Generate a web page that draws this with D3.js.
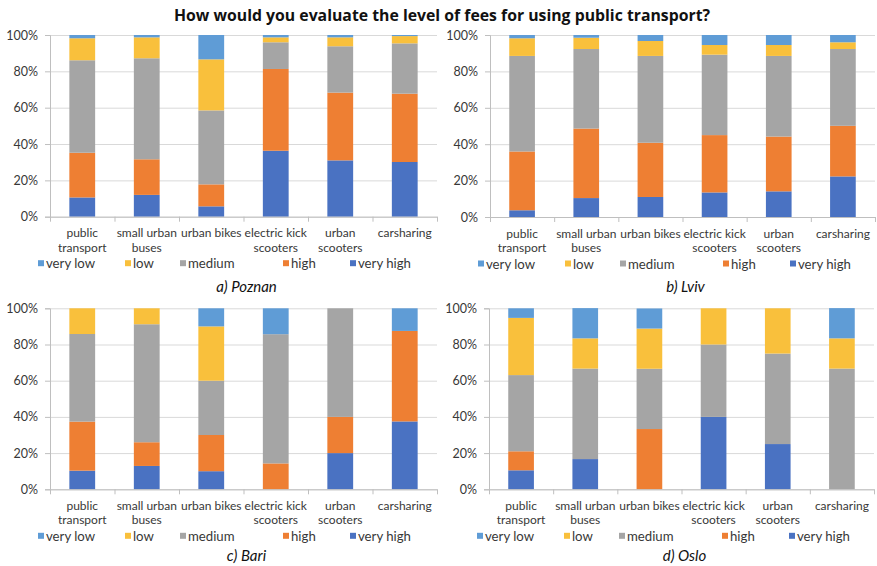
<!DOCTYPE html>
<html>
<head>
<meta charset="utf-8">
<script src="https://cdn.jsdelivr.net/npm/d3@7"></script>
<style>
  html, body { margin: 0; padding: 0; background: #fff; }
  svg { display: block; font-family: Lato, "Open Sans", sans-serif; }
</style>
</head>
<body>
<svg id="chart" width="877" height="566"></svg>
<script>
// Mode categories and the answer levels (bottom of stack first)
const categories = ["public transport", "small urban buses", "urban bikes", "electric kick scooters", "urban scooters", "carsharing"];
const categoryLines = [["public", "transport"], ["small urban", "buses"], ["urban bikes"], ["electric kick", "scooters"], ["urban", "scooters"], ["carsharing"]];
const stackLevels = ["very high", "high", "medium", "low", "very low"];
const legendLevels = ["very low", "low", "medium", "high", "very high"];
const levelColors = ["#4A72C2", "#EE7F33", "#A5A5A5", "#F9C03C", "#5F9CD6"];
const yTickValues = [0, 20, 40, 60, 80, 100];
const yTickLabels = ["0%", "20%", "40%", "60%", "80%", "100%"];

// Share of answers (%) per mode, Poznan
const poznanVeryHigh = [10.6, 12.0, 5.7, 36.3, 31.0, 30.1];
const poznanHigh     = [24.6, 19.6, 12.1, 45.0, 37.3, 37.6];
const poznanMedium   = [50.9, 55.6, 40.7, 14.7, 25.5, 27.7];
const poznanLow      = [12.1, 11.5, 28.1, 2.7, 4.9, 4.0];
const poznanVeryLow  = [1.8, 1.3, 13.4, 1.3, 1.3, 0.6];

// Lviv
const lvivVeryHigh = [3.7, 10.4, 11.0, 13.5, 14.1, 22.3];
const lvivHigh     = [32.3, 38.2, 29.8, 31.5, 30.1, 27.8];
const lvivMedium   = [52.5, 43.7, 47.7, 44.2, 44.3, 42.2];
const lvivLow      = [9.7, 6.2, 8.2, 5.3, 6.0, 3.7];
const lvivVeryLow  = [1.8, 1.5, 3.3, 5.5, 5.5, 4.0];

// Bari
const bariVeryHigh = [10.3, 12.9, 10.0, 0, 20.0, 37.5];
const bariHigh     = [27.1, 13.1, 20.0, 14.3, 20.0, 50.0];
const bariMedium   = [48.4, 65.2, 30.0, 71.4, 60.0, 0];
const bariLow      = [14.2, 8.8, 30.0, 0, 0, 0];
const bariVeryLow  = [0, 0, 10.0, 14.3, 0, 12.5];

// Oslo
const osloVeryHigh = [10.5, 16.7, 0, 40.0, 25.0, 0];
const osloHigh     = [10.5, 0, 33.3, 0, 0, 0];
const osloMedium   = [42.1, 50.0, 33.3, 40.0, 50.0, 66.7];
const osloLow      = [31.6, 16.7, 22.2, 20.0, 25.0, 16.7];
const osloVeryLow  = [5.3, 16.7, 11.1, 0, 0, 16.7];

const panelTitles = ["a) Poznan", "b) Lviv", "c) Bari", "d) Oslo"];
const chartTitle = "How would you evaluate the level of fees for using public transport?";

function rows(vh, h, m, l, vl) {
  return categories.map((c, i) => ({
    category: c,
    "very high": vh[i], "high": h[i], "medium": m[i], "low": l[i], "very low": vl[i]
  }));
}

const panels = [
  { title: panelTitles[0], data: rows(poznanVeryHigh, poznanHigh, poznanMedium, poznanLow, poznanVeryLow),
    x0: 50, x1: 437, y0: 35, y1: 216.7, capY: 287 },
  { title: panelTitles[1], data: rows(lvivVeryHigh, lvivHigh, lvivMedium, lvivLow, lvivVeryLow),
    x0: 490, x1: 875, y0: 35, y1: 217, capY: 287 },
  { title: panelTitles[2], data: rows(bariVeryHigh, bariHigh, bariMedium, bariLow, bariVeryLow),
    x0: 50, x1: 437, y0: 308.3, y1: 489.3, capY: 556 },
  { title: panelTitles[3], data: rows(osloVeryHigh, osloHigh, osloMedium, osloLow, osloVeryLow),
    x0: 489, x1: 874, y0: 308.3, y1: 489.3, capY: 556 }
];

const svg = d3.select("#chart");
const color = d3.scaleOrdinal().domain(stackLevels).range(levelColors);

svg.append("text")
  .attr("x", 442).attr("y", 21)
  .attr("text-anchor", "middle")
  .attr("font-family", "'Open Sans', sans-serif")
  .attr("font-size", 15.8).attr("font-weight", 700)
  .attr("fill", "#111")
  .text(chartTitle);

const legendOffsets = [-12, 75, 130, 233, 300];

panels.forEach(p => {
  const g = svg.append("g");
  const x = d3.scaleBand().domain(categories).range([p.x0, p.x1]).paddingInner(0.6).paddingOuter(0.3);
  const y = d3.scaleLinear().domain([0, 100]).range([p.y1, p.y0]);

  // gridlines
  g.append("g")
    .attr("transform", `translate(${p.x0},0)`)
    .call(d3.axisLeft(y).tickValues(yTickValues).tickSize(-(p.x1 - p.x0)).tickFormat(""))
    .call(s => s.select(".domain").remove())
    .call(s => s.selectAll("line").attr("stroke", "#d9d9d9").attr("stroke-width", 1));

  // y axis with ticks
  g.append("g")
    .attr("transform", `translate(${p.x0},0)`)
    .call(d3.axisLeft(y).tickValues(yTickValues).tickSize(5).tickPadding(7)
      .tickFormat((d, i) => yTickLabels[i]))
    .call(s => s.select(".domain").attr("stroke", "#bfbfbf"))
    .call(s => s.selectAll("line").attr("stroke", "#bfbfbf"))
    .call(s => s.selectAll("text").attr("font-size", 12.5).attr("fill", "#383838")
      .attr("font-family", "Lato, sans-serif"));

  // stacked bars
  const series = d3.stack().keys(stackLevels)(p.data);
  g.selectAll("g.series").data(series).join("g")
    .attr("class", "series")
    .attr("fill", d => color(d.key))
    .selectAll("rect").data(d => d).join("rect")
    .attr("x", d => x(d.data.category))
    .attr("width", x.bandwidth())
    .attr("y", d => y(d[1]))
    .attr("height", d => Math.max(0, y(d[0]) - y(d[1])));

  // x axis line with ticks at category boundaries
  const xb = d3.scaleLinear().domain([0, categories.length]).range([p.x0, p.x1]);
  g.append("g")
    .attr("transform", `translate(0,${p.y1})`)
    .call(d3.axisBottom(xb).tickValues(d3.range(categories.length + 1)).tickSize(5).tickSizeOuter(0).tickFormat(""))
    .call(s => s.select(".domain").attr("stroke", "#bfbfbf"))
    .call(s => s.selectAll("line").attr("stroke", "#bfbfbf"));

  // category labels
  categories.forEach((c, i) => {
    const t = g.append("text")
      .attr("x", x(c) + x.bandwidth() / 2)
      .attr("y", p.y1 + 20.5)
      .attr("text-anchor", "middle")
      .attr("font-size", 12).attr("fill", "#383838");
    categoryLines[i].forEach((ln, j) => {
      t.append("tspan").attr("x", x(c) + x.bandwidth() / 2).attr("dy", j === 0 ? 0 : 14.5).text(ln);
    });
  });

  // legend
  const ly = p.y1 + 47;
  legendLevels.forEach((lv, i) => {
    const lx = p.x0 + legendOffsets[i];
    g.append("rect").attr("x", lx).attr("y", ly - 3.5).attr("width", 6).attr("height", 6).attr("fill", color(lv));
    g.append("text").attr("x", lx + 8).attr("y", ly + 4.5)
      .attr("font-size", 13.2).attr("fill", "#383838").text(lv);
  });

  // panel caption
  svg.append("text")
    .attr("x", (p.x0 + p.x1) / 2 + 3).attr("y", p.capY + 5)
    .attr("text-anchor", "middle")
    .attr("font-size", 15).attr("font-style", "italic")
    .attr("fill", "#111")
    .text(p.title);
});
</script>
</body>
</html>
